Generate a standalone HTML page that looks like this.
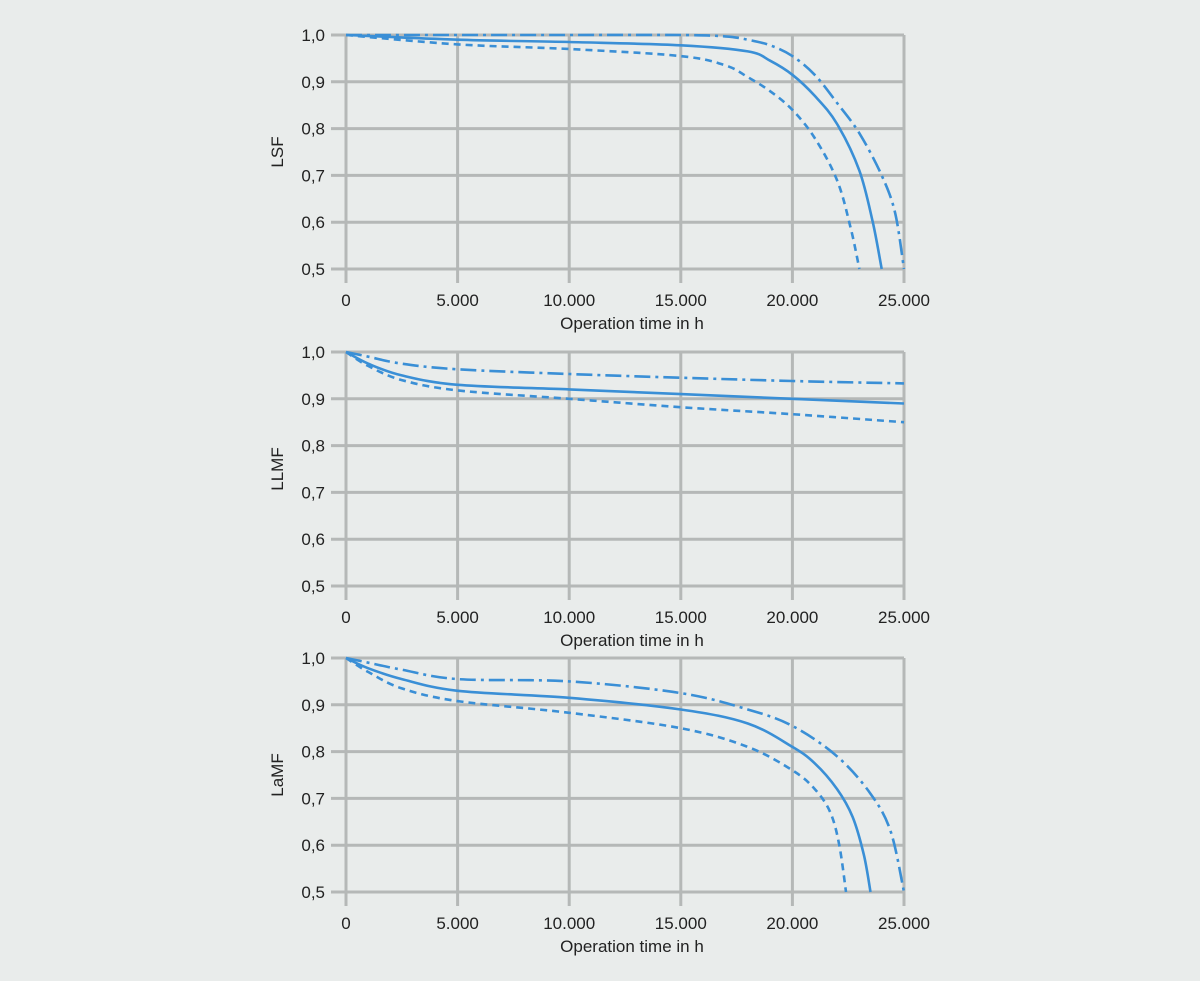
<!DOCTYPE html>
<html><head><meta charset="utf-8"><style>
html,body{margin:0;padding:0;background:#e9eceb;}
svg{display:block;font-family:"Liberation Sans",sans-serif;}
</style></head><body>
<svg id="chart" width="1200" height="981" viewBox="0 0 1200 981"></svg>
<script>
const xTicks=[0,5000,10000,15000,20000,25000];
const xTickLabels=["0","5.000","10.000","15.000","20.000","25.000"];
const yTicks=[0.5,0.6,0.7,0.8,0.9,1.0];
const yTickLabels=["0,5","0,6","0,7","0,8","0,9","1,0"];
const panelTitles=["LSF","LLMF","LaMF"];
const lsfX_solid=[0,5000,10000,15000,18000,19000,20000,21000,22000,23000,23600,24000];
const lsfY_solid=[1.0,0.99,0.985,0.978,0.965,0.945,0.915,0.87,0.81,0.71,0.6,0.5];
const lsfX_dash=[0,5000,10000,15000,17000,18000,19000,20000,21000,22000,22600,23000];
const lsfY_dash=[1.0,0.98,0.97,0.955,0.935,0.91,0.88,0.84,0.78,0.69,0.59,0.5];
const lsfX_dd=[0,10000,15000,17000,18000,19000,20000,21000,22000,23000,24000,24600,25000];
const lsfY_dd=[1.0,1.0,1.0,0.997,0.99,0.978,0.955,0.915,0.855,0.79,0.7,0.62,0.5];
const llmfX=[0,1000,2500,5000,10000,15000,20000,25000];
const llmfY_solid=[1.0,0.975,0.95,0.93,0.92,0.91,0.9,0.89];
const llmfY_dash=[1.0,0.97,0.94,0.918,0.9,0.882,0.867,0.85];
const llmfY_dd=[1.0,0.99,0.975,0.963,0.953,0.945,0.938,0.933];
const lamfX_solid=[0,1000,2500,5000,10000,15000,18000,20000,21000,22000,22700,23200,23500];
const lamfY_solid=[1.0,0.978,0.955,0.93,0.915,0.89,0.86,0.81,0.775,0.72,0.66,0.58,0.5];
const lamfX_dash=[0,1000,2500,5000,10000,15000,18000,20000,21000,21700,22100,22400];
const lamfY_dash=[1.0,0.97,0.935,0.908,0.883,0.85,0.81,0.76,0.72,0.67,0.6,0.5];
const lamfX_dd=[0,1000,2500,5000,10000,15000,18000,20000,22000,23500,24400,25000];
const lamfY_dd=[1.0,0.99,0.975,0.955,0.95,0.925,0.89,0.855,0.79,0.71,0.63,0.5];

const panels=[
 {top:35,series:[[lsfX_solid,lsfY_solid,"none"],[lsfX_dash,lsfY_dash,"7 5"],[lsfX_dd,lsfY_dd,"16 5 3 5"]]},
 {top:352,series:[[llmfX,llmfY_solid,"none"],[llmfX,llmfY_dash,"7 5"],[llmfX,llmfY_dd,"16 5 3 5"]]},
 {top:658,series:[[lamfX_solid,lamfY_solid,"none"],[lamfX_dash,lamfY_dash,"7 5"],[lamfX_dd,lamfY_dd,"16 5 3 5"]]}
];
const NS="http://www.w3.org/2000/svg";
const svg=document.getElementById('chart');
const X0=346,X1=904,H=234;
function sx(v){return X0+(v-0)/25000*(X1-X0);}
function mk(t,a,p){const e=document.createElementNS(NS,t);for(const k in a)e.setAttribute(k,a[k]);(p||svg).appendChild(e);return e;}
function smooth(P){
 let d='M'+P[0][0].toFixed(1)+','+P[0][1].toFixed(1);
 for(let i=0;i<P.length-1;i++){
  const p0=P[i-1]||P[i],p1=P[i],p2=P[i+1],p3=P[i+2]||P[i+1];
  const c1=[p1[0]+(p2[0]-p0[0])/6,p1[1]+(p2[1]-p0[1])/6];
  const c2=[p2[0]-(p3[0]-p1[0])/6,p2[1]-(p3[1]-p1[1])/6];
  d+=' C'+c1.map(v=>v.toFixed(1)).join(',')+' '+c2.map(v=>v.toFixed(1)).join(',')+' '+p2[0].toFixed(1)+','+p2[1].toFixed(1);
 }
 return d;
}
panels.forEach((p,pi)=>{
 const sy=v=>p.top+(1.0-v)/0.5*H;
 const g=mk('g',{});
 
 
 yTicks.forEach((t,i)=>{
  const l=mk('line',{x1:331,x2:X1,y1:sy(t),y2:sy(t),stroke:'#b5b8b7','stroke-width':3},g);
  
  
  const tx=mk('text',{x:325,y:sy(t)+6,'text-anchor':'end','font-size':17,fill:'#222'},g);
  
  
  tx.textContent=yTickLabels[i];
 });
 xTicks.forEach((t,i)=>{
  const l=mk('line',{x1:sx(t),x2:sx(t),y1:p.top,y2:p.top+H+14,stroke:'#b5b8b7','stroke-width':3},g);
  
  
  const tx=mk('text',{x:sx(t),y:p.top+H+37,'text-anchor':'middle','font-size':17,fill:'#222'},g);
  
  
  tx.textContent=xTickLabels[i];
 });
 const xt=mk('text',{x:632,y:p.top+H+60,'text-anchor':'middle','font-size':17,fill:'#222'},g);
 
 
 xt.textContent='Operation time in h';
 const yc=p.top+H/2;
 const yt=mk('text',{x:283,y:yc,'text-anchor':'middle','font-size':17,fill:'#222',transform:'rotate(-90 283 '+yc+')'},g);
 
 
 yt.textContent=panelTitles[pi];
 p.series.forEach((s,si)=>{
  const P=s[0].map((x,i)=>[sx(x),sy(s[1][i])]);
  const pl=mk('path',{d:smooth(P),fill:'none',stroke:'#3a8fd6','stroke-width':2.6,'stroke-linejoin':'round','stroke-dasharray':s[2]},g);
  
  
 });
});
</script>
</body></html>
